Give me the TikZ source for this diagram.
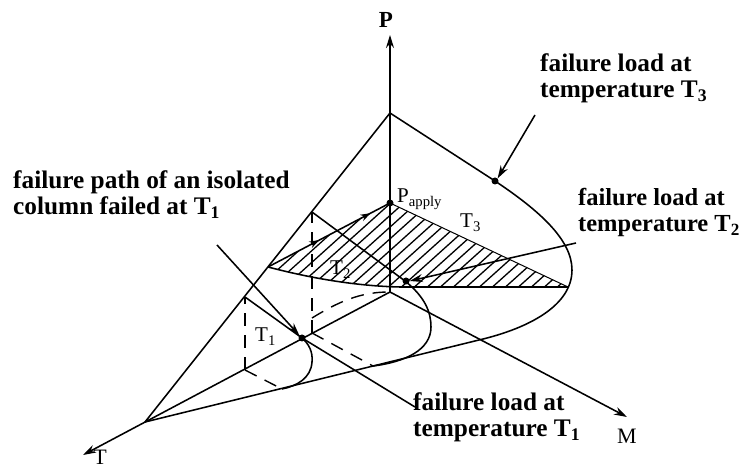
\documentclass[tikz,border=0pt]{standalone}
\usepackage{fontspec}
\setmainfont{Liberation Serif}
\usetikzlibrary{arrows.meta,decorations.markings}
\begin{document}
\begin{tikzpicture}[x=1pt,y=-1pt,
  ln/.style={line width=1.55pt},
  thin ln/.style={line width=1pt},
  dsh/.style={line width=1.4pt, dash pattern=on 13pt off 9pt},
  tip/.style={-{Stealth[length=13pt,width=8pt]}},
  dotn/.style={circle,fill,inner sep=0pt,minimum size=7pt},
  lbl/.style={font=\fontsize{25.3}{26.5}\selectfont\bfseries, align=left, anchor=base west, inner sep=0pt},
  sym/.style={font=\fontsize{21}{24}\selectfont, inner sep=0pt, anchor=base west},
  midarrows/.style={postaction={decorate, decoration={markings,
      mark=at position 0.42 with {\arrow{Stealth[length=10pt,width=7pt]}},
      mark=at position 0.84 with {\arrow{Stealth[length=10pt,width=7pt]}}}}},
]
\useasboundingbox (0,0) rectangle (745,470);

% key points
\coordinate (O) at (390,292);
\coordinate (A) at (390,113);
\coordinate (Tz) at (145,422);
\coordinate (Mz) at (479,340);
\coordinate (Ptip) at (390,35);
\coordinate (Ttip) at (83,455);
\coordinate (Mtip) at (627,417);
\coordinate (Pa) at (390,203);
\coordinate (L) at (268,267);
\coordinate (R) at (568,287);
\coordinate (B) at (400,287);
% T1 and T2 planes
\coordinate (T1a) at (245,370);
\coordinate (T1p) at (245,297);
\coordinate (T1m) at (282,389);
\coordinate (T2a) at (312,333);
\coordinate (T2p) at (312,212);
\coordinate (T2m) at (373,366);

% hatched section at P = P_apply
\begin{scope}
  \clip (Pa) -- (L) .. controls (310,278) and (355,286) .. (B) -- (R) -- cycle;
  \foreach \x in {231,244,...,560} \draw[line width=1.3pt] (\x,300) -- ++(200,-180);
\end{scope}
\draw[ln] (L) .. controls (310,278) and (355,286) .. (B) -- (R);
\draw[thin ln] (Pa) -- (R);
\draw[ln,midarrows] (L) -- (Pa);

% axes
\draw[ln,tip] (O) -- (Ptip);
\draw[ln,tip] (O) -- (Ttip);
\draw[ln,tip] (O) -- (Mtip);

% outer surface boundaries
\draw[ln] (A) -- (Tz);
\draw[ln] (A) -- (495,181) .. controls (540,211) and (572,240) .. (572,270)
  .. controls (572,305) and (530,328) .. (Mz) -- (Tz);

% T2 plane
\draw[dsh] (T2a) -- (T2p);
\draw[dsh] (T2a) -- (T2m);
\draw[ln] (T2p) -- (405,281) .. controls (425,297) and (431,312) .. (431,327)
  .. controls (431,350) and (405,362) .. (T2m);
\draw[dsh] (312,318) .. controls (338,302) and (360,292) .. (389,292);

% T1 plane
\draw[dsh] (T1a) -- (T1p);
\draw[dsh] (T1a) -- (T1m);
\draw[ln] (T1p) -- (302,338) .. controls (309,344) and (313,352) .. (312,362)
  .. controls (311,378) and (297,386) .. (T1m);

% dots
\node[dotn] (dPa) at (Pa) {};
\node[dotn] (d3) at (495,181) {};
\node[dotn] (d2) at (406,281) {};
\node[dotn] (d1) at (302,338) {};

% axis labels
\node[font=\fontsize{23}{24}\selectfont\bfseries, inner sep=0pt] (lP) at (386,20) {P};
\node[font=\fontsize{22}{24}\selectfont, inner sep=0pt] (lM) at (627,436) {M};
\node[font=\fontsize{22}{24}\selectfont, inner sep=0pt] (lT) at (100,457) {T};

% in-diagram labels
\node[sym] (lPa) at (397,203) {P\textsubscript{apply}};
\node[sym] (lT3) at (460,228) {T\textsubscript{3}};
\node[sym] (lT2) at (330,275) {T\textsubscript{2}};
\node[sym] (lT1) at (255,342) {T\textsubscript{1}};

% text labels
\node[lbl] (t3) at (540,98) {failure load at\\temperature T\textsubscript{3}};
\node[lbl, font=\fontsize{24.5}{26.5}\selectfont\bfseries] (t2) at (578,232) {failure load at\\temperature T\textsubscript{2}};
\node[lbl] (t1) at (413,437) {failure load at\\temperature T\textsubscript{1}};
\node[lbl] (tp) at (13,215) {failure path of an isolated\\column failed at T\textsubscript{1}};

% pointers
\coordinate (s3) at (535,115);
\coordinate (s2) at (576,243);
\coordinate (s1) at (415,407);
\coordinate (sp) at (217,245);
\draw[ln,tip] (s3) -- (d3.north east);
\draw[ln,tip] (s2) -- (d2.east);
\draw[ln] (s1) -- (d1.center);
\draw[ln,tip] (sp) -- (d1.north west);
\end{tikzpicture}
\end{document}
